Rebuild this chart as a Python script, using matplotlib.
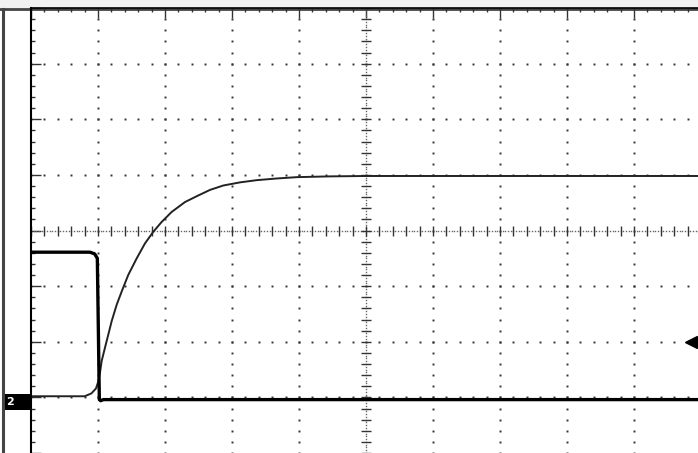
import numpy as np
import matplotlib
matplotlib.use("Agg")
import matplotlib.pyplot as plt
from matplotlib.patches import Rectangle

# screen divisions: 10 horizontal, 8 vertical (center at 0)
pulse_x = [0.0, 0.88, 0.95, 0.99, 1.02, 1.04, 1.08, 10.0]
pulse_y = [-0.39, -0.39, -0.42, -0.50, -3.04, -3.06, -3.04, -3.04]

charge_x = [0.0, 0.80, 0.90, 0.97, 1.00, 1.03, 1.055, 1.104, 1.154, 1.204, 1.279,
            1.354, 1.452, 1.578, 1.701, 1.825, 1.951, 2.100, 2.299, 2.497, 2.672,
            2.870, 3.119, 3.369, 3.667, 3.966, 4.46, 5.0, 10.0]
charge_y = [-2.98, -2.98, -2.93, -2.84, -2.73, -2.55, -2.345, -2.107, -1.870, -1.630, -1.334,
            -1.095, -0.798, -0.500, -0.232, -0.023, 0.155, 0.334, 0.512, 0.630, 0.730,
            0.809, 0.865, 0.905, 0.935, 0.959, 0.973, 0.98, 0.98]

trigger_level = -2.0
ground_label = "2"

W, H = 698, 453
fig = plt.figure(figsize=(W / 100, H / 100), dpi=100)
fig.patch.set_facecolor("white")

# background / bezel in pixel coords
bg = fig.add_axes([0, 0, 1, 1], zorder=0)
bg.set_xlim(0, W)
bg.set_ylim(H, 0)
bg.axis("off")
bg.add_patch(Rectangle((0, 0), W, 8, color="#f1f1f1", lw=0))
bg.plot([0, W], [9, 9], color="#444444", lw=2.0)
bg.plot([3, 3], [9, H], color="#444444", lw=2.2)

# graticule
top_px, ctr_px, div_px = 8, 232, 56.0
ax = fig.add_axes([31 / W, 0, 670 / W, (H - top_px) / H], zorder=1)
ax.patch.set_alpha(0)
ax.set_xlim(0, 10)
ax.set_ylim(-(H - ctr_px) / div_px, (ctr_px - top_px) / div_px)

for s in ["bottom", "right"]:
    ax.spines[s].set_visible(False)
ax.spines["left"].set_linewidth(1.5)
ax.spines["top"].set_linewidth(1.2)
ax.set_xticks(np.arange(0, 10.01, 1))
ax.set_xticks(np.arange(0, 10.01, 0.2), minor=True)
ax.set_yticks(np.arange(-4, 4.01, 1))
ax.set_yticks(np.arange(-4, 4.01, 0.2), minor=True)
ax.tick_params(which="both", direction="in", top=True, bottom=False, left=True, right=False,
               labeltop=False, labelbottom=False, labelleft=False, color="#333333", width=1)
ax.tick_params(which="major", length=7)
ax.tick_params(which="minor", length=3)

dot = dict(ls="none", marker="s", ms=1.4, mew=0, color="#333333")
xs = np.arange(0, 10.01, 0.2)
ys = np.arange(-4, 4.01, 0.2)
for k in [-3, -2, -1, 1, 2, 3]:
    ax.plot(xs, np.full_like(xs, k), **dot)
for k in [1, 2, 3, 4, 6, 7, 8, 9]:
    ax.plot(np.full_like(ys, k), ys, **dot)

# center axes with dense dots and small ticks
xd = np.arange(0, 10.01, 0.04)
yd = np.arange(-4, 4.01, 0.05)
ax.plot(xd, np.zeros_like(xd), ls="none", marker="s", ms=1.0, mew=0, color="#666666")
ax.plot(np.full_like(yd, 5), yd, ls="none", marker="s", ms=1.0, mew=0, color="#666666")
ax.plot(xs, np.zeros_like(xs), ls="none", marker="|", ms=7, mew=1.0, color="#333333")
ax.plot(np.full_like(ys, 5), ys, ls="none", marker="_", ms=7, mew=1.0, color="#333333")

# traces
ax.plot(charge_x, charge_y, color="#222222", lw=1.4, solid_joinstyle="round")
ax.plot(pulse_x, pulse_y, color="#000000", lw=2.4, solid_joinstyle="round")

# trigger level arrow
ax.plot([9.85], [trigger_level], marker="<", ms=8, color="black", clip_on=False)
ax.plot([9.85, 10], [trigger_level, trigger_level], color="black", lw=1.5)

# channel ground marker
gy = ctr_px - pulse_y[-1] * div_px
bg.add_patch(Rectangle((5, gy - 8), 26, 16, color="black", lw=0))
bg.text(10, gy, ground_label, color="white", fontsize=8, fontweight="bold", ha="center", va="center")

fig.savefig("out.png", dpi=100)
